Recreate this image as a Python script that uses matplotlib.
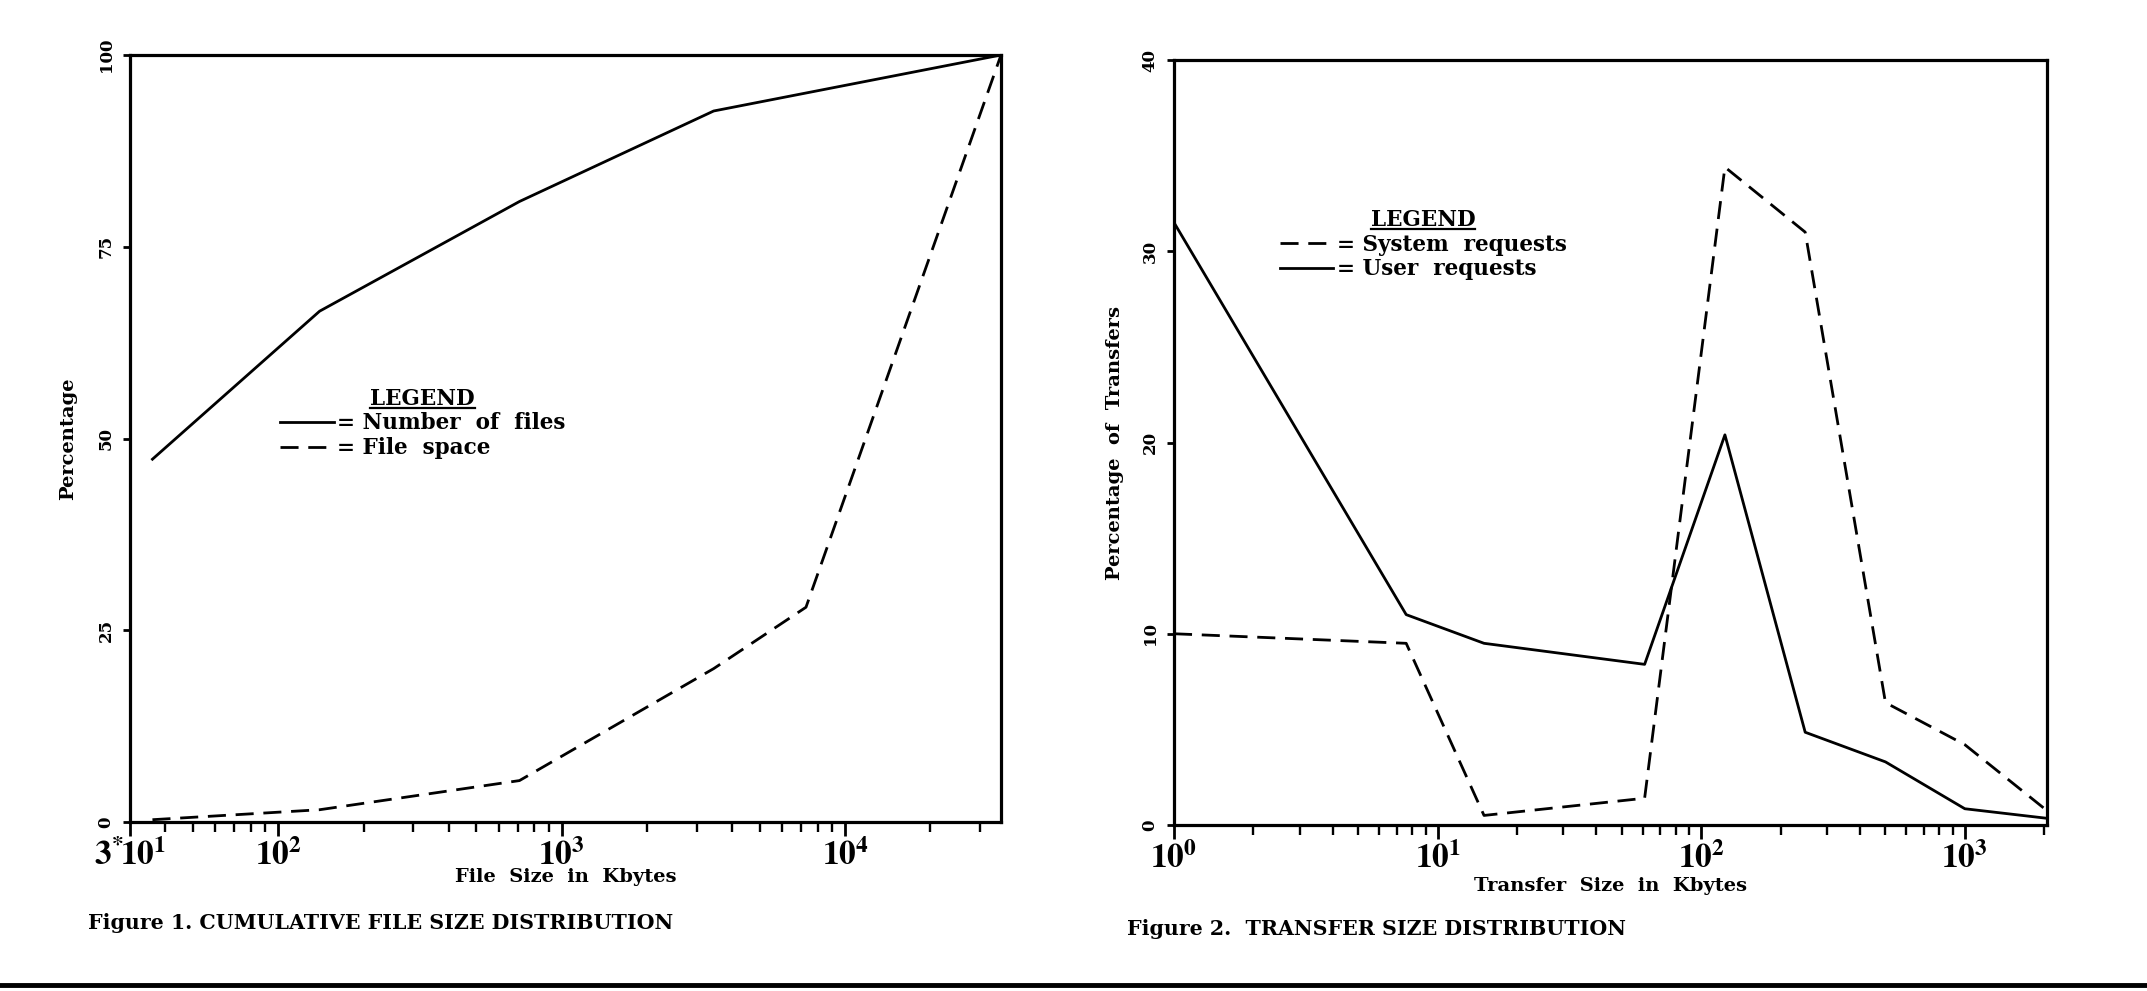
import matplotlib
matplotlib.use('Agg')
import matplotlib.pyplot as plt
from matplotlib.lines import Line2D
from matplotlib.ticker import LogLocator, NullFormatter
from matplotlib.font_manager import FontProperties

# ---------------- data ----------------
# Figure 1: cumulative file size distribution
files_size = [36, 140, 710, 3440, 35500]
files_pct = [47.3, 66.6, 80.9, 92.7, 100.0]
space_size = [36, 140, 710, 3440, 7280, 35500]
space_pct = [0.3, 1.6, 5.4, 20.0, 28.0, 100.0]
fig1_xticks = [30, 100, 1000, 10000]
fig1_xticklabels = [r'$3^{*}\!10^{1}$', r'$10^{2}$', r'$10^{3}$', r'$10^{4}$']
fig1_yticks = [0, 25, 50, 75, 100]
fig1_yticklabels = ['0', '25', '50', '75', '100']

# Figure 2: transfer size distribution
transfer_size = [1, 7.6, 15, 61, 123, 248, 500, 1000, 2050]
system_pct = [10.0, 9.5, 0.5, 1.4, 34.4, 31.0, 6.4, 4.2, 0.75]
user_pct = [31.5, 11.0, 9.5, 8.4, 20.4, 4.85, 3.3, 0.85, 0.35]
fig2_xticks = [1, 10, 100, 1000]
fig2_xticklabels = [r'$10^{0}$', r'$10^{1}$', r'$10^{2}$', r'$10^{3}$']
fig2_yticks = [0, 10, 20, 30, 40]
fig2_yticklabels = ['0', '10', '20', '30', '40']

# ---------------- style ----------------
plt.rcParams['font.family'] = ['DejaVu Serif', 'DejaVu Sans']
plt.rcParams['font.weight'] = 'bold'
plt.rcParams['mathtext.fontset'] = 'stix'

W, H = 2147, 991
fig = plt.figure(figsize=(W / 100, H / 100), dpi=100)

lab_fp = FontProperties(family='DejaVu Serif', weight='bold', size=14)
cap_fp = FontProperties(family='DejaVu Serif', weight='bold', size=14.8)
leg_fp = FontProperties(family='DejaVu Serif', weight='bold', size=15.5)

DASH = (6.5, 3.5)
LW = 2.0


def style_axes(ax, xticks, xticklabels, yticks, yticklabels):
    ax.set_xscale('log')
    for s in ax.spines.values():
        s.set_linewidth(2.3)
    ax.set_xticks(xticks, labels=xticklabels)
    ax.xaxis.set_minor_locator(LogLocator(base=10, subs=range(2, 10), numticks=50))
    ax.xaxis.set_minor_formatter(NullFormatter())
    ax.set_yticks(yticks, labels=yticklabels)
    ax.yaxis.set_minor_locator(plt.NullLocator())
    ax.tick_params(axis='x', which='major', direction='out', length=10, width=2,
                   labelsize=24, pad=2, top=False)
    ax.tick_params(axis='x', which='minor', direction='out', length=7, width=1.7,
                   top=False)
    ax.tick_params(axis='y', which='major', direction='out', length=5, width=2,
                   labelsize=12, pad=6, labelrotation=90, right=False)
    for lab in ax.get_yticklabels():
        lab.set_fontweight('bold')
        lab.set_va('center')


# ---------- Figure 1 ----------
ax1 = fig.add_axes([130 / W, 1 - 822 / H, 871 / W, 767 / H])
l_files, = ax1.plot(files_size, files_pct, color='black', lw=LW, solid_joinstyle='round')
l_space, = ax1.plot(space_size, space_pct, color='black', lw=LW, dashes=DASH)
ax1.set_xlim(30, 35500)
ax1.set_ylim(0, 100)
style_axes(ax1, fig1_xticks, fig1_xticklabels, fig1_yticks, fig1_yticklabels)
ax1.set_xlabel('File  Size  in  Kbytes', fontproperties=lab_fp)
ax1.xaxis.set_label_coords(0.5, -0.060)
ax1.set_ylabel('Percentage', fontproperties=lab_fp)
ax1.yaxis.set_label_coords(-0.071, 0.5)
ax1.yaxis.label.set_va('center')

leg1 = ax1.legend([l_files, l_space], ['= Number  of  files', '= File  space'],
                  title='LEGEND', loc='upper left', bbox_to_anchor=(0.172, 0.566),
                  frameon=False, prop=leg_fp, title_fontproperties=leg_fp,
                  handlelength=2.5, handletextpad=0.15, labelspacing=0.12,
                  borderpad=0, borderaxespad=0)

# ---------- Figure 2 ----------
ax2 = fig.add_axes([1174 / W, 1 - 825 / H, 873 / W, 765 / H])
l_sys, = ax2.plot(transfer_size, system_pct, color='black', lw=LW, dashes=DASH)
l_usr, = ax2.plot(transfer_size, user_pct, color='black', lw=LW)
ax2.set_xlim(1, 2050)
ax2.set_ylim(0, 40)
style_axes(ax2, fig2_xticks, fig2_xticklabels, fig2_yticks, fig2_yticklabels)
ax2.set_xlabel('Transfer  Size  in  Kbytes', fontproperties=lab_fp)
ax2.xaxis.set_label_coords(0.5, -0.068)
ax2.set_ylabel('Percentage  of  Transfers', fontproperties=lab_fp)
ax2.yaxis.set_label_coords(-0.0676, 0.5)
ax2.yaxis.label.set_va('center')

leg2 = ax2.legend([l_sys, l_usr], ['= System  requests', '= User  requests'],
                  title='LEGEND', loc='upper left', bbox_to_anchor=(0.121, 0.805),
                  frameon=False, prop=leg_fp, title_fontproperties=leg_fp,
                  handlelength=2.5, handletextpad=0.15, labelspacing=0.12,
                  borderpad=0, borderaxespad=0)

# ---------- captions ----------
fig.text(88 / W, 1 - 923 / H, 'Figure 1. CUMULATIVE FILE SIZE DISTRIBUTION',
         fontproperties=cap_fp, ha='left', va='center')
fig.text(1127 / W, 1 - 929 / H, 'Figure 2.  TRANSFER SIZE DISTRIBUTION',
         fontproperties=cap_fp, ha='left', va='center')

# bottom rule of the page
fig.add_artist(Line2D([0, 1], [1 - 985 / H, 1 - 985 / H], transform=fig.transFigure,
                      color='black', lw=3.5))

# underline the legend titles
fig.canvas.draw()
renderer = fig.canvas.get_renderer()
inv = fig.transFigure.inverted()
for leg in (leg1, leg2):
    bb = leg.get_title().get_window_extent(renderer)
    (x0, y0), (x1, _) = inv.transform([[bb.x0, bb.y0], [bb.x1, bb.y1]])
    fig.add_artist(Line2D([x0, x1], [y0 + 2 / H, y0 + 2 / H],
                          transform=fig.transFigure, color='black', lw=1.6))

fig.savefig('out.png', dpi=100)
